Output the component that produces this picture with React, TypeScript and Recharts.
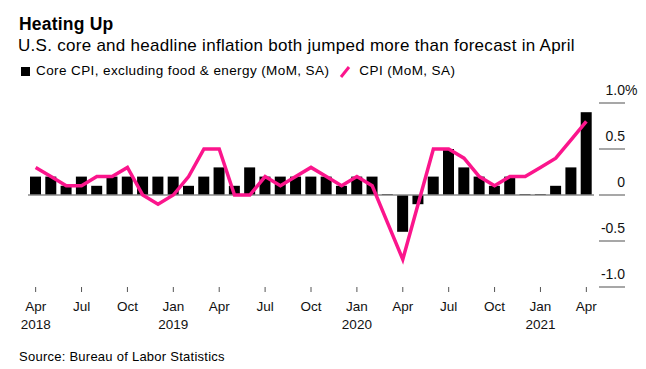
import React from 'react';
import { ComposedChart, Bar, Line, XAxis, YAxis, ReferenceLine } from 'recharts';

const months = [
  '2018-04', '2018-05', '2018-06', '2018-07', '2018-08', '2018-09', '2018-10', '2018-11', '2018-12',
  '2019-01', '2019-02', '2019-03', '2019-04', '2019-05', '2019-06', '2019-07', '2019-08', '2019-09',
  '2019-10', '2019-11', '2019-12', '2020-01', '2020-02', '2020-03', '2020-04', '2020-05', '2020-06',
  '2020-07', '2020-08', '2020-09', '2020-10', '2020-11', '2020-12', '2021-01', '2021-02', '2021-03',
  '2021-04',
];

// core CPI ex food & energy, MoM % (bars)
const coreCpi = [
  0.2, 0.2, 0.1, 0.2, 0.1, 0.2, 0.2, 0.2, 0.2,
  0.2, 0.1, 0.2, 0.3, 0.1, 0.3, 0.2, 0.2, 0.2,
  0.2, 0.2, 0.1, 0.2, 0.2, 0.01, -0.4, -0.1, 0.2,
  0.5, 0.3, 0.2, 0.1, 0.2, 0.01, 0.01, 0.1, 0.3,
  0.9,
];

// headline CPI, MoM % (line)
const headlineCpi = [
  0.3, 0.2, 0.1, 0.1, 0.2, 0.2, 0.3, 0.0, -0.1,
  0.0, 0.2, 0.5, 0.5, 0.0, 0.0, 0.2, 0.1, 0.2,
  0.3, 0.2, 0.1, 0.2, 0.1, -0.3, -0.7, -0.1, 0.5,
  0.5, 0.4, 0.2, 0.1, 0.2, 0.2, 0.3, 0.4, 0.6,
  0.8,
];

const xTicks = [
  '2018-04', '2018-07', '2018-10', '2019-01', '2019-04', '2019-07', '2019-10',
  '2020-01', '2020-04', '2020-07', '2020-10', '2021-01', '2021-04',
];
const monthNames = ['Jan', 'Feb', 'Mar', 'Apr', 'May', 'Jun', 'Jul', 'Aug', 'Sep', 'Oct', 'Nov', 'Dec'];
const yTicks = [-1, -0.5, 0, 0.5, 1];

const PINK = '#fb158c';
const FONT = '"Liberation Sans", Arial, sans-serif';

const data = months.map((m, i) => ({ month: m, core: coreCpi[i], cpi: headlineCpi[i] }));

function formatY(v: number): string {
  if (v === 0) return '0';
  return v.toFixed(1);
}

function MonthTick(props: any) {
  const { x, y, payload, index } = props;
  const [yr, mo] = String(payload.value).split('-');
  const showYear = index === 0 || mo === '01';
  return (
    <g>
      <line x1={x} x2={x} y1={y} y2={y + 5} stroke="#555" strokeWidth={1} />
      <text x={x} y={y + 24} textAnchor="middle" fontSize={13.5} fill="#111" fontFamily={FONT}>
        {monthNames[Number(mo) - 1]}
      </text>
      {showYear && (
        <text x={x} y={y + 42} textAnchor="middle" fontSize={13.5} fill="#111" fontFamily={FONT}>
          {yr}
        </text>
      )}
    </g>
  );
}

function ValueTick(props: any) {
  const { x, y, payload } = props;
  const v = payload.value as number;
  return (
    <g>
      <line x1={x + 5} x2={x + 31} y1={y} y2={y} stroke="#8a8a8a" strokeWidth={1.5} />
      <text x={x + 31} y={y - 8} textAnchor="end" fontSize={14} fill="#111" fontFamily={FONT}>
        {formatY(v)}
      </text>
      {v === 1 && (
        <text x={x + 31} y={y - 8} textAnchor="start" fontSize={14} fill="#111" fontFamily={FONT}>
          %
        </text>
      )}
    </g>
  );
}

export default function App() {
  return (
    <div style={{ position: 'absolute', left: 0, top: 0, width: 646, height: 369, background: '#fff', fontFamily: FONT, color: '#000' }}>
      <ComposedChart
        width={646}
        height={369}
        data={data}
        margin={{ top: 103, right: 0, left: 28, bottom: 22 }}
      >
        <XAxis
          dataKey="month"
          ticks={xTicks}
          interval={0}
          axisLine={false}
          tickLine={false}
          tickSize={0}
          tickMargin={0}
          height={60}
          tick={<MonthTick />}
        />
        <YAxis
          orientation="right"
          domain={[-1, 1]}
          ticks={yTicks}
          axisLine={false}
          tickLine={false}
          tickSize={0}
          tickMargin={0}
          width={52}
          tick={<ValueTick />}
        />
        <ReferenceLine y={0} stroke="#8a8a8a" strokeWidth={1.5} />
        <Bar dataKey="core" fill="#000" barSize={11} isAnimationActive={false} />
        <Line
          type="linear"
          dataKey="cpi"
          stroke={PINK}
          strokeWidth={3.5}
          dot={false}
          activeDot={false}
          isAnimationActive={false}
        />
      </ComposedChart>

      <div style={{ position: 'absolute', left: 19, top: 14, fontSize: 17.5, lineHeight: '20px', fontWeight: 700, letterSpacing: 0.2 }}>
        Heating Up
      </div>
      <div style={{ position: 'absolute', left: 18, top: 36, fontSize: 17, lineHeight: '20px', letterSpacing: 0.28 }}>
        U.S. core and headline inflation both jumped more than forecast in April
      </div>
      <div style={{ position: 'absolute', left: 21, top: 63, fontSize: 13.5, lineHeight: '16px', letterSpacing: 0.4, display: 'flex', alignItems: 'center' }}>
        <span style={{ display: 'inline-block', width: 9, height: 9, background: '#000', marginRight: 6 }} />
        <span>Core CPI, excluding food &amp; energy (MoM, SA)</span>
        <svg width={22} height={14} style={{ margin: '0 2px 0 6px' }}>
          <line x1={6} y1={13} x2={14} y2={3} stroke={PINK} strokeWidth={3} />
        </svg>
        <span>CPI (MoM, SA)</span>
      </div>
      <div style={{ position: 'absolute', left: 19, top: 349, fontSize: 13, lineHeight: '16px', letterSpacing: 0.25 }}>
        Source: Bureau of Labor Statistics
      </div>
    </div>
  );
}
